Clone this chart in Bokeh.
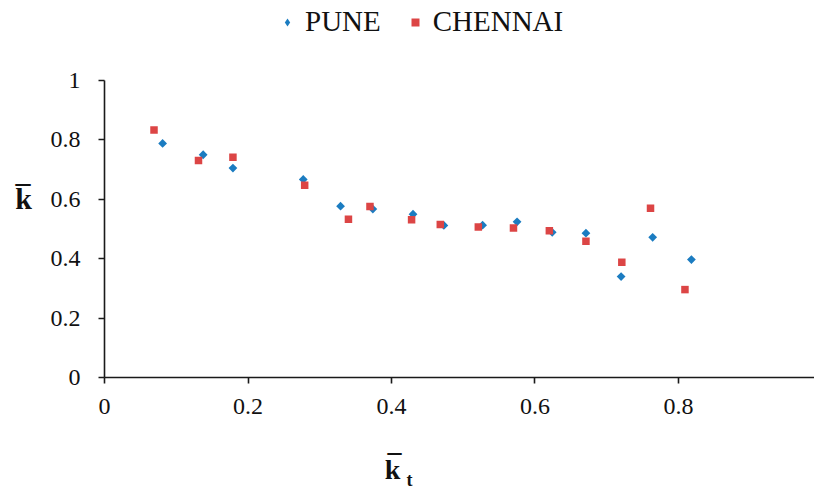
import math
from bokeh.plotting import figure
from bokeh.models import Range1d, FixedTicker, Legend, LegendItem, Label
from bokeh.embed import file_html
from bokeh.resources import INLINE

# Mean clearness index (k_t) vs. mean diffuse fraction (k) for two cities
pune_kt = [0.081, 0.1375, 0.179, 0.277, 0.329, 0.374, 0.430, 0.473, 0.527, 0.575,
           0.624, 0.671, 0.720, 0.764, 0.818]
pune_k = [0.788, 0.750, 0.705, 0.667, 0.577, 0.567, 0.550, 0.512, 0.513, 0.524,
          0.489, 0.486, 0.340, 0.472, 0.397]

chennai_kt = [0.069, 0.131, 0.179, 0.279, 0.340, 0.370, 0.428, 0.468, 0.521, 0.570,
              0.620, 0.671, 0.721, 0.761, 0.809]
chennai_k = [0.833, 0.731, 0.742, 0.647, 0.533, 0.576, 0.531, 0.515, 0.507, 0.503,
             0.494, 0.459, 0.388, 0.570, 0.296]

x_ticks = [0, 0.2, 0.4, 0.6, 0.8, 1.0]
y_ticks = [0, 0.2, 0.4, 0.6, 0.8, 1.0]
series_names = ["PUNE", "CHENNAI"]

FONT = "Liberation Serif"
BLUE = "#1b7cc1"
RED = "#dc4545"
INK = "#111111"

# The plotting frame fills the whole canvas; the axes sit at x=0 / y=0 and
# the ranges leave room around them for tick labels, titles and the legend.
p = figure(width=814, height=488, output_backend="svg", toolbar_location=None,
           x_range=Range1d(-0.14495, 0.98955), y_range=Range1d(-0.37374, 1.26936),
           min_border=0)
p.outline_line_color = None
p.grid.visible = False

# PUNE: small diamonds (rotated squares); CHENNAI: small squares
pune = p.scatter(pune_kt, pune_k, marker="square", angle=math.pi / 4, size=6.2,
                 color=BLUE, line_width=0)
chen = p.scatter(chennai_kt, chennai_k, marker="square", size=7.5, color=RED,
                 line_width=0)
# hidden twin of the PUNE series, so the legend key shows a diamond
pune_key = p.scatter(pune_kt, pune_k, marker="diamond", size=9, color=BLUE,
                     line_width=0, visible=False)

for ax, ticks in ((p.xaxis[0], x_ticks), (p.yaxis[0], y_ticks)):
    ax.fixed_location = 0
    ax.bounds = (0, 1)
    ax.ticker = FixedTicker(ticks=ticks)
    ax.minor_tick_line_color = None
    ax.major_tick_in = 0
    ax.major_tick_out = 6
    ax.axis_line_width = 1.6
    ax.major_tick_line_width = 1.6
    ax.axis_line_color = "#1a1a1a"
    ax.major_tick_line_color = "#1a1a1a"
    ax.major_label_text_font = FONT
    ax.major_label_text_font_size = "24px"
    ax.major_label_text_color = INK

p.xaxis[0].major_label_standoff = 16
p.yaxis[0].major_label_standoff = 18
p.xaxis[0].major_label_overrides = {0: "0", 1.0: "1"}
p.yaxis[0].major_label_overrides = {0: "0", 1.0: "1"}

# axis titles: bold k with an overbar at the left, and k-bar with subscript t below
title_style = dict(text_font=FONT, text_font_style="bold", text_color=INK,
                   text_align="center", text_baseline="alphabetic")
p.add_layout(Label(x=-0.1129, y=0.6027, text="k", text_font_size="30px", **title_style))
p.add_layout(Label(x=-0.1136, y=0.6936, text="_", text_font_size="30px", **title_style))
p.add_layout(Label(x=0.4014, y=-0.3098, text="k", text_font_size="28px", **title_style))
p.add_layout(Label(x=0.4042, y=-0.2155, text="_", text_font_size="28px", **title_style))
p.add_layout(Label(x=0.4250, y=-0.3460, text="t", text_font_size="18px", **title_style))

legend = Legend(items=[LegendItem(label=series_names[0], renderers=[pune_key]),
                       LegendItem(label=series_names[1], renderers=[chen])],
                orientation="horizontal", location=(277, 450),
                label_text_font=FONT, label_text_font_size="29px",
                label_text_color=INK, padding=0, margin=0,
                spacing=24, label_standoff=8, glyph_width=20,
                inactive_fill_alpha=0,
                border_line_color=None, background_fill_alpha=0)
p.add_layout(legend, "center")

open("out.html", "w").write(file_html(p, INLINE))
